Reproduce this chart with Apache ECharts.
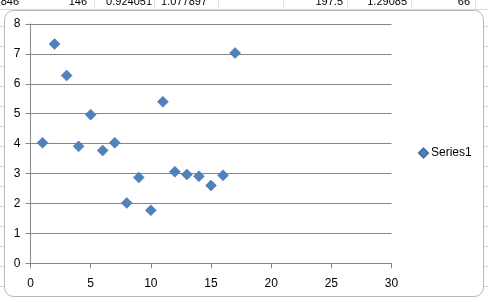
<!DOCTYPE html>
<html>
<head>
<meta charset="utf-8">
<script src="https://cdn.jsdelivr.net/npm/echarts@6/dist/echarts.min.js"></script>
<style>
html,body{margin:0;padding:0;background:#fff;}
#c{width:488px;height:302px;}
</style>
</head>
<body>
<div id="c"></div>
<script>
var xValues = [1, 2, 3, 4, 5, 6, 7, 8, 9, 10, 11, 12, 13, 14, 15, 16, 17];
var yValues = [4.03, 7.33, 6.28, 3.91, 4.97, 3.77, 4.03, 2.02, 2.87, 1.77, 5.40, 3.06, 2.97, 2.91, 2.60, 2.94, 7.03];
var seriesName = 'Series1';
var sheetTexts = ['3846', '146', '0.924051', '1.077897', '197.5', '1.29085', '66'];
var sheetTextRight = [19, 87, 152, 207, 343, 407, 470];

var chart = echarts.init(document.getElementById('c'), null, {renderer: 'canvas'});
var points = xValues.map(function (x, i) { return [x, yValues[i]]; });

var bg = [];
[94, 154, 218, 283, 347, 411, 475].forEach(function (x) {
  bg.push({type: 'line', shape: {x1: x + 0.5, y1: 0, x2: x + 0.5, y2: 10}, style: {stroke: '#dde3ee', lineWidth: 1}, z: -10});
});
bg.push({type: 'line', shape: {x1: 0, y1: 9.5, x2: 488, y2: 9.5}, style: {stroke: '#d0d7e5', lineWidth: 1}, z: -10});
[26, 46, 66, 86, 106, 126, 146, 166, 186, 206, 226, 246, 266, 286].forEach(function (y) {
  bg.push({type: 'line', shape: {x1: 0, y1: y + 0.5, x2: 4, y2: y + 0.5}, style: {stroke: '#d0d7e5', lineWidth: 1}, z: -10});
  bg.push({type: 'line', shape: {x1: 484, y1: y + 0.5, x2: 488, y2: y + 0.5}, style: {stroke: '#d0d7e5', lineWidth: 1}, z: -10});
});
sheetTexts.forEach(function (t, i) {
  bg.push({type: 'text', x: sheetTextRight[i], y: 7, style: {text: t, fill: '#000', font: '11px "Liberation Sans", Arial, sans-serif', textAlign: 'right', textVerticalAlign: 'bottom'}, z: -9});
});
bg.push({type: 'rect', shape: {x: 4.5, y: 10.5, width: 479, height: 286, r: 9}, style: {fill: '#ffffff', stroke: '#b8b8b8', lineWidth: 1}, z: -5});

chart.setOption({
  animation: false,
  textStyle: {fontFamily: '"Liberation Sans", Arial, sans-serif'},
  graphic: bg,
  grid: {left: 30.5, right: 96.5, top: 24, bottom: 38.7, containLabel: false},
  legend: {
    show: true,
    orient: 'vertical',
    left: 413,
    top: 142,
    itemWidth: 9,
    itemHeight: 9,
    itemGap: 4,
    textStyle: {fontSize: 12, color: '#000', padding: [0, 0, 0, -2]},
    data: [{name: seriesName, icon: 'diamond'}]
  },
  xAxis: {
    type: 'value',
    min: 0, max: 30, interval: 5,
    axisLine: {show: true, onZero: false, lineStyle: {color: '#868686', width: 1}},
    axisTick: {show: true, inside: false, length: 5, lineStyle: {color: '#868686'}},
    axisLabel: {color: '#000', fontSize: 12, margin: 14},
    splitLine: {show: false}
  },
  yAxis: {
    type: 'value',
    min: 0, max: 8, interval: 1,
    axisLine: {show: true, onZero: false, lineStyle: {color: '#868686', width: 1}},
    axisTick: {show: true, inside: false, length: 5, lineStyle: {color: '#868686'}},
    axisLabel: {color: '#000', fontSize: 12, margin: 10},
    splitLine: {show: true, lineStyle: {color: '#868686', width: 1}}
  },
  series: [{
    name: seriesName,
    type: 'scatter',
    symbol: 'diamond',
    symbolSize: 11,
    itemStyle: {color: '#4f81bd', borderColor: '#4672a8', borderWidth: 0.5, opacity: 1},
    data: points
  }]
});
</script>
</body>
</html>
